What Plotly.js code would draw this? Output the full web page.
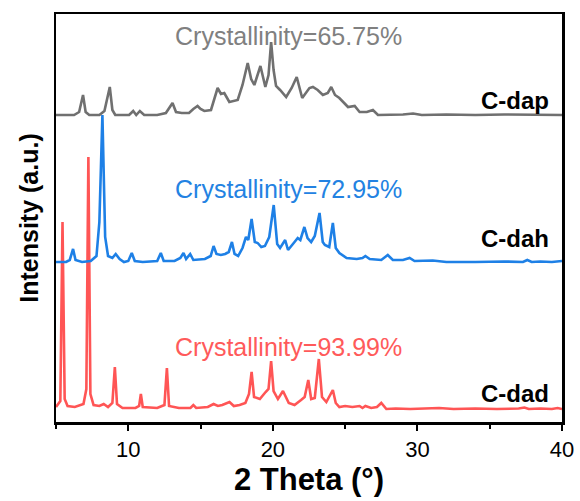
<!DOCTYPE html>
<html>
<head>
<meta charset="utf-8">
<script src="https://cdn.plot.ly/plotly-3.0.1.min.js"></script>
<style>html,body{margin:0;padding:0;background:#fff;}#chart{width:580px;height:501px;}</style>
</head>
<body>
<div id="chart"></div>
<script>
// 2 Theta (degrees) and relative intensity (a.u.) above each pattern's baseline
const dadX = [5.0,5.3,5.45,5.6,5.8,6.3,6.9,7.1,7.24,7.38,7.6,8.0,8.3,8.6,8.9,9.07,9.22,9.6,10.5,10.75,10.87,11.0,12.0,12.5,12.67,12.82,13.5,14.3,14.5,14.7,15.5,15.9,16.2,16.5,17.0,17.3,17.7,18.1,18.35,18.53,18.7,19.1,19.5,19.7,19.88,20.05,20.35,20.7,21.1,21.5,21.95,22.2,22.45,22.65,22.9,23.18,23.4,23.7,24.15,24.35,24.6,25.0,25.5,26.0,26.2,26.4,26.8,27.2,27.5,27.85,28.5,29.5,30.5,31.5,32.5,34.0,35.5,37.0,37.4,37.7,38.5,39.3,39.7,40.0];
const dadY = [2,8,187,10,3,2,5,20,252,15,4,3,5,2,6,42,5,1,1,3,15,2,1,4,41,3,1,1,4,1,2,5,3,4,7,3,4,6,15,37,12,10,17,20,48,18,10,18,6,4,9,12,29,10,11,50,12,7,19,6,2,3,2,3,1,3,1,2,6,0,0.5,0,0.5,1,0,0.5,0,0.5,1.5,0,0.5,0,1,0];

const dahX = [5.0,5.7,5.95,6.18,6.35,6.8,7.4,7.8,8.0,8.21,8.4,8.6,8.9,9.13,9.4,9.7,10.0,10.24,10.45,11.0,12.0,12.25,12.45,13.2,13.6,13.82,14.0,14.28,14.5,15.3,15.7,15.9,16.1,16.4,16.7,16.95,17.17,17.35,17.6,17.9,18.14,18.3,18.53,18.75,18.95,19.2,19.45,19.75,20.06,20.3,20.5,20.7,20.85,21.05,21.3,21.5,21.72,21.9,22.18,22.4,22.65,22.9,23.23,23.45,23.6,23.9,24.15,24.35,24.6,25.1,25.8,26.2,26.4,26.7,27.5,27.95,28.3,29.0,29.46,29.8,31.06,32.0,34.0,36.0,37.3,37.6,37.9,38.5,39.3,40.0];
const dahY = [0,0,2,13,2,0,1,6,40,147,25,6,4,8,3,0,1,9,1,0,1,9,1,1,4,9,3,8,2,3,6,16,8,7,8,10,20,8,6,14,25,22,43,20,19,15,16,25,57,18,14,19,22,12,16,20,24,22,35,24,20,26,49,20,17,15,39,14,9,4,3,4,6,3,2,7,2,2,4,1,1.5,0,0,0.5,0,2,0,0.5,0,1];

const dapX = [5.0,6.25,6.6,6.87,7.05,7.3,8.0,8.35,8.72,8.9,9.1,10.06,10.34,10.55,10.8,11.1,12.0,12.6,13.06,13.3,13.7,14.2,14.5,14.79,15.0,15.26,15.72,16.18,16.41,16.64,16.99,17.3,17.57,17.9,18.26,18.5,18.72,19.14,19.48,19.7,19.88,20.05,20.22,20.5,20.92,21.3,21.65,22.03,22.53,22.77,23.1,23.46,23.8,24.04,24.3,24.6,24.9,25.2,25.66,26.0,26.5,26.92,27.27,28.0,29.0,29.7,30.3,32.0,34.0,36.0,38.0,40.0];
const dapY = [0,0,3,20,3,0,0,4,28,5,0,0,4,0,4,0,0,2,12,3,2,2,6,9,6,4,5,27,21,22,13,14,15,30,52,36,30,49,28,40,73,45,29,25,18,27,38,17,27,28,25,20,22,28,20,17,12,8,9,3,3,5,0,0,0.5,1.5,0,0.5,0,0.5,0,0];

// vertical offsets used to stack the patterns (a.u.)
const offsets = {dad: 13, dah: 160, dap: 307};
const sampleNames = ['C-dad','C-dah','C-dap'];
const crystallinity = ['Crystallinity=93.99%','Crystallinity=72.95%','Crystallinity=65.75%'];
const colors = ['#ff5555','#1e80e6','#707070'];
const textColors = ['#ff5a5a','#2382e2','#808080'];
const xTickVals = [10,20,30,40];

const traces = [
  {x: dadX, y: dadY.map(v => v + offsets.dad), name: sampleNames[0], color: colors[0]},
  {x: dahX, y: dahY.map(v => v + offsets.dah), name: sampleNames[1], color: colors[1]},
  {x: dapX, y: dapY.map(v => v + offsets.dap), name: sampleNames[2], color: colors[2]}
].map(t => ({x: t.x, y: t.y, name: t.name, type: 'scatter', mode: 'lines',
  line: {color: t.color, width: 2.6, shape: 'linear'}, hoverinfo: 'x+y'}));

const crystPos = [0.184, 0.571, 0.946];
const namePos = [0.071, 0.449, 0.789];
const annotations = [];
for (let i = 0; i < 3; i++) {
  annotations.push({text: crystallinity[i], xref: 'paper', yref: 'paper', x: 0.46, y: crystPos[i],
    xanchor: 'center', yanchor: 'middle', showarrow: false,
    font: {family: 'Liberation Sans, Arial, sans-serif', size: 25, color: textColors[i]}});
  annotations.push({text: '<b>' + sampleNames[i] + '</b>', xref: 'paper', yref: 'paper', x: 0.978, y: namePos[i],
    xanchor: 'right', yanchor: 'middle', showarrow: false,
    font: {family: 'Liberation Sans, Arial, sans-serif', size: 24, color: '#000'}});
}

const layout = {
  width: 580, height: 501,
  margin: {l: 56, r: 18, t: 14, b: 79, pad: 0},
  paper_bgcolor: '#fff', plot_bgcolor: '#fff',
  showlegend: false,
  font: {family: 'Liberation Sans, Arial, sans-serif', color: '#000'},
  xaxis: {
    range: [5, 40], tickmode: 'array', tickvals: xTickVals, ticktext: xTickVals.map(String),
    ticks: 'outside', ticklen: 6, tickwidth: 2, tickcolor: '#000',
    minor: {tickmode: 'array', tickvals: [5,15,25,35], ticks: 'outside', ticklen: 4, tickwidth: 2, tickcolor: '#000'},
    showline: true, linewidth: 2.5, linecolor: '#000', mirror: true,
    showgrid: false, zeroline: false,
    tickfont: {size: 22, color: '#000'},
    title: {text: '<b>2 Theta (°)</b>', font: {size: 31, color: '#000'}, standoff: 6}
  },
  yaxis: {
    range: [0, 408], showticklabels: false, ticks: '',
    showline: true, linewidth: 2.5, linecolor: '#000', mirror: true,
    showgrid: false, zeroline: false,
    title: {text: '<b>Intensity (a.u.)</b>', font: {size: 25, color: '#000'}, standoff: 8}
  },
  annotations: annotations
};

Plotly.newPlot('chart', traces, layout, {displayModeBar: false, staticPlot: true});
</script>
</body>
</html>
